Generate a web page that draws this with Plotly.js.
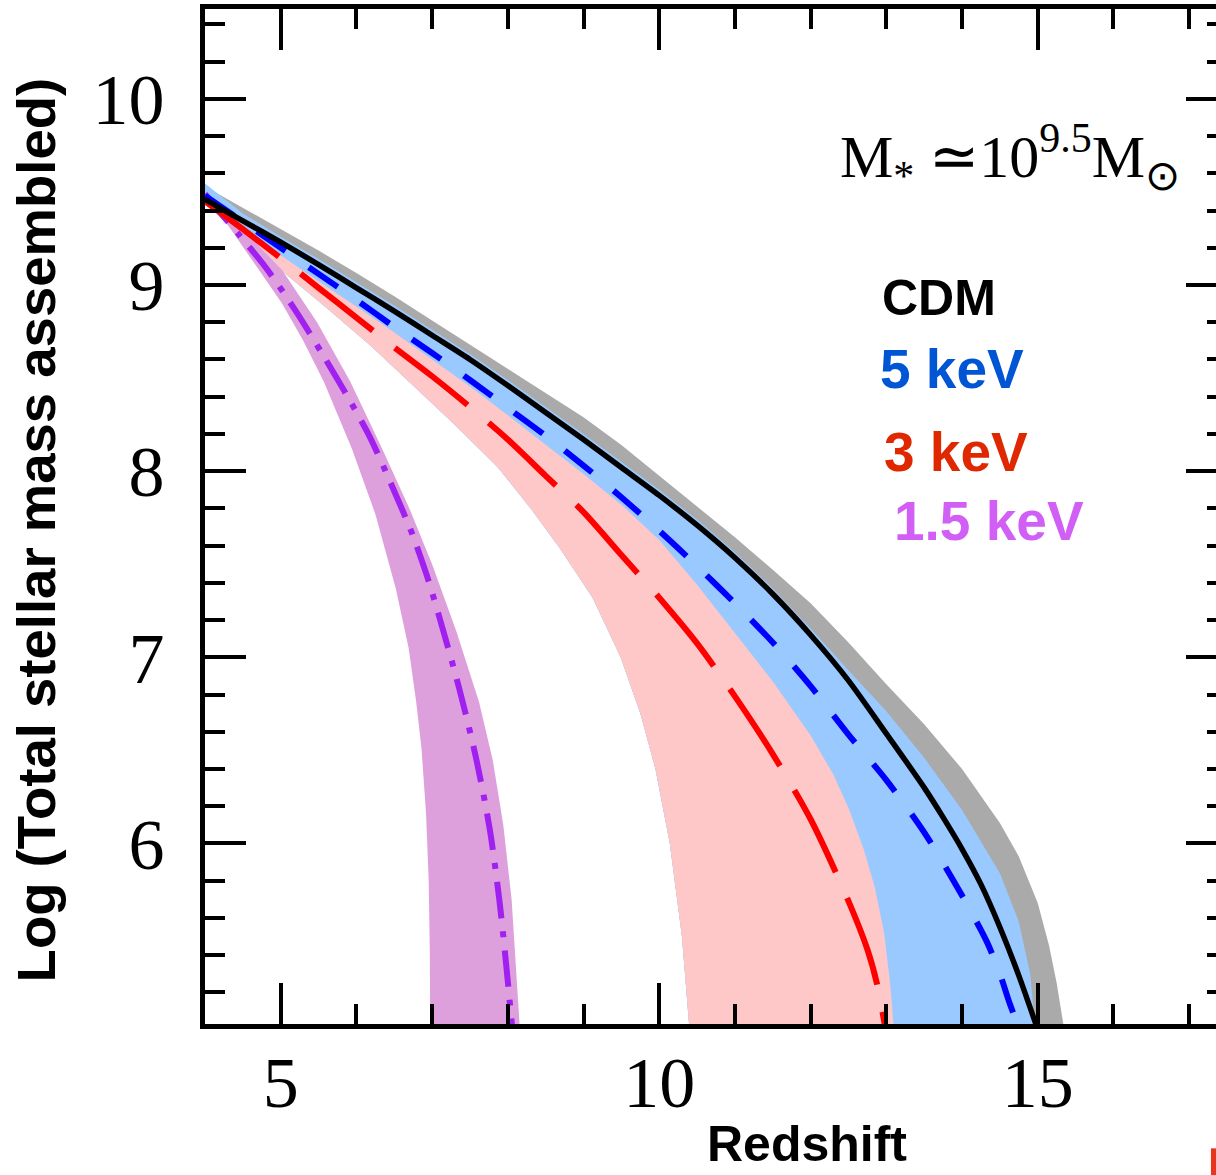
<!DOCTYPE html>
<html>
<head>
<meta charset="utf-8">
<script src="https://cdn.plot.ly/plotly-3.0.1.min.js"></script>
<style>
  html, body { margin: 0; padding: 0; overflow: hidden; background: #fff; }
  #chart { width: 1237px; height: 1175px; }
</style>
</head>
<body>
<div id="chart"></div>
<script>
// ---- data (x = redshift, y = log stellar mass) ----
// CDM (black solid)
const cdmX = [4.0, 4.5, 5.0, 5.5, 6.0, 6.5, 7.0, 7.5, 8.0, 8.5, 9.0, 9.5, 10.0, 10.5, 11.0, 11.5, 12.0, 12.5, 13.0, 13.5, 13.75, 14.0, 14.25, 14.5, 14.75, 15.0];
const cdmY = [9.46, 9.345, 9.23, 9.11, 8.985, 8.86, 8.73, 8.60, 8.46, 8.315, 8.17, 8.02, 7.87, 7.71, 7.535, 7.34, 7.12, 6.875, 6.59, 6.30, 6.14, 5.97, 5.78, 5.55, 5.29, 5.0];
// CDM band (grey) upper edge
const cdmBandX = [4.0, 4.5, 5.0, 5.5, 6.0, 6.5, 7.0, 7.5, 8.0, 8.5, 9.0, 9.5, 10.0, 10.5, 11.0, 11.5, 12.0, 12.5, 13.0, 13.5, 14.0, 14.5, 14.75, 15.0, 15.15, 15.25, 15.35];
const cdmBandY = [9.53, 9.415, 9.30, 9.185, 9.065, 8.94, 8.81, 8.68, 8.55, 8.42, 8.29, 8.14, 7.975, 7.81, 7.645, 7.47, 7.29, 7.08, 6.855, 6.64, 6.40, 6.11, 5.93, 5.68, 5.45, 5.25, 5.0];
// 5 keV (blue dashed)
const wdm5X = [4.0, 4.5, 5.0, 5.5, 6.0, 6.5, 7.0, 7.5, 8.0, 8.5, 9.0, 9.5, 10.0, 10.5, 11.0, 11.5, 12.0, 12.5, 13.0, 13.5, 14.0, 14.33, 14.5, 14.63, 14.76];
const wdm5Y = [9.48, 9.34, 9.20, 9.06, 8.92, 8.775, 8.635, 8.49, 8.34, 8.19, 8.03, 7.86, 7.68, 7.49, 7.29, 7.08, 6.845, 6.585, 6.34, 6.06, 5.72, 5.47, 5.30, 5.14, 5.0];
// 5 keV band (light blue) upper edge
const wdm5HiX = [4.0, 4.5, 5.0, 5.5, 6.0, 6.5, 7.0, 7.5, 8.0, 8.5, 9.0, 9.5, 10.0, 10.5, 11.0, 11.5, 12.0, 12.5, 13.0, 13.5, 14.0, 14.5, 14.75, 14.9, 14.97];
const wdm5HiY = [9.545, 9.385, 9.26, 9.14, 9.015, 8.89, 8.76, 8.63, 8.49, 8.345, 8.20, 8.05, 7.90, 7.74, 7.565, 7.37, 7.155, 6.93, 6.71, 6.46, 6.18, 5.84, 5.58, 5.30, 5.0];
// 5 keV band lower edge (= 3 keV band upper edge)
const wdm5LoX = [4.0, 4.5, 5.0, 5.5, 6.0, 6.5, 7.0, 7.5, 8.0, 8.5, 9.0, 9.5, 10.0, 10.5, 11.0, 11.5, 12.0, 12.3, 12.5, 12.7, 12.85, 12.97, 13.05, 13.10];
const wdm5LoY = [9.47, 9.315, 9.16, 9.02, 8.885, 8.745, 8.60, 8.455, 8.30, 8.145, 7.985, 7.82, 7.63, 7.39, 7.13, 6.87, 6.58, 6.37, 6.19, 5.97, 5.76, 5.52, 5.25, 5.0];
// 3 keV (red long dashed)
const wdm3X = [4.0, 4.5, 5.0, 5.5, 6.0, 6.5, 7.0, 7.5, 8.0, 8.5, 9.0, 9.5, 10.0, 10.5, 11.0, 11.5, 12.0, 12.5, 12.75, 12.88, 12.99];
const wdm3Y = [9.45, 9.30, 9.145, 8.985, 8.825, 8.665, 8.51, 8.345, 8.17, 7.975, 7.78, 7.55, 7.32, 7.075, 6.79, 6.48, 6.13, 5.69, 5.43, 5.24, 5.0];
// 3 keV band (pink) lower edge
const wdm3LoX = [4.0, 4.5, 5.0, 5.6, 6.2, 6.7, 7.3, 7.87, 8.32, 8.68, 9.12, 9.49, 9.75, 9.95, 10.14, 10.30, 10.40];
const wdm3LoY = [9.44, 9.25, 9.08, 8.88, 8.67, 8.48, 8.25, 8.02, 7.79, 7.59, 7.32, 7.0, 6.7, 6.4, 6.0, 5.5, 5.0];
// 1.5 keV (purple dash-dot)
const wdm15X = [4.0, 4.22, 4.45, 4.81, 5.2, 5.55, 5.87, 6.17, 6.46, 6.74, 6.93, 7.10, 7.36, 7.58, 7.76, 7.89, 7.99, 8.06];
const wdm15Y = [9.49, 9.38, 9.27, 9.09, 8.86, 8.63, 8.41, 8.19, 7.93, 7.66, 7.44, 7.21, 6.83, 6.46, 6.08, 5.69, 5.30, 5.0];
// 1.5 keV band (plum) left and right edges
const wdm15LoX = [4.0, 4.42, 5.02, 5.30, 5.57, 5.94, 6.25, 6.52, 6.69, 6.79, 6.86, 6.92, 6.955, 6.97, 6.975];
const wdm15LoY = [9.50, 9.25, 8.90, 8.70, 8.48, 8.12, 7.77, 7.37, 7.05, 6.76, 6.51, 6.16, 5.80, 5.4, 5.0];
const wdm15HiX = [4.0, 4.5, 5.02, 5.48, 5.92, 6.34, 6.70, 7.0, 7.32, 7.62, 7.80, 7.94, 8.05, 8.11, 8.16];
const wdm15HiY = [9.50, 9.30, 9.08, 8.80, 8.48, 8.12, 7.80, 7.50, 7.14, 6.76, 6.45, 6.10, 5.70, 5.35, 5.0];

const modelLabels = ['CDM', '5 keV', '3 keV', '1.5 keV'];
const xTitle = 'Redshift';
const yTitle = 'Log (Total stellar mass assembled)';
const massLabel = 'M<sub>*</sub> \u224310<sup>9.5</sup>M<sub>\u2299</sub>';

// ---- helpers ----
function band(hiX, hiY, loX, loY, color) {
  return {
    x: hiX.concat(loX.slice().reverse()),
    y: hiY.concat(loY.slice().reverse()),
    mode: 'lines', fill: 'toself', fillcolor: color,
    line: {width: 0, color: 'rgba(0,0,0,0)'}, hoverinfo: 'skip'
  };
}
function curve(x, y, color, dash, width) {
  return {x: x, y: y, mode: 'lines', line: {color: color, dash: dash, width: width, shape: 'spline', smoothing: 0.8}, hoverinfo: 'skip'};
}

const traces = [
  band(cdmBandX, cdmBandY, wdm3LoX, wdm3LoY, '#aaaaaa'),
  band(wdm5HiX, wdm5HiY, wdm3LoX, wdm3LoY, '#99c9ff'),
  band(wdm5LoX, wdm5LoY, wdm3LoX, wdm3LoY, '#ffc8c8'),
  band(wdm15HiX, wdm15HiY, wdm15LoX, wdm15LoY, '#dda0dd'),
  curve(wdm15X, wdm15Y, '#a020f0', '37px,13px,6px,13px', 6),
  curve(wdm3X, wdm3Y, '#ff0000', '92px,28px', 6),
  curve(wdm5X, wdm5Y, '#0000ff', '35px,28px', 6),
  curve(cdmX, cdmY, '#000000', 'solid', 5.5)
];

const serif = 'Liberation Serif, Times New Roman, serif';
const sans = 'Liberation Sans, Arial, Helvetica, sans-serif';

const layout = {
  width: 1237, height: 1175,
  margin: {l: 205, r: 10, t: 9, b: 151, pad: 0},
  paper_bgcolor: '#ffffff', plot_bgcolor: '#ffffff',
  showlegend: false,
  xaxis: {
    range: [4, 17.5], showgrid: false, zeroline: false,
    showline: true, linewidth: 5, linecolor: '#000',
    mirror: 'allticks', ticks: 'inside', ticklen: 41, tickwidth: 4, tickcolor: '#000',
    tick0: 0, dtick: 5, ticklabelstandoff: -8,
    tickfont: {family: serif, size: 72, color: '#000'},
    minor: {tick0: 0, dtick: 1, ticks: 'inside', ticklen: 20, tickwidth: 4, tickcolor: '#000', showgrid: false}
  },
  yaxis: {
    range: [5.03, 10.483], showgrid: false, zeroline: false,
    showline: true, linewidth: 5, linecolor: '#000',
    mirror: 'allticks', ticks: 'inside', ticklen: 41, tickwidth: 4, tickcolor: '#000',
    tick0: 0, dtick: 1, ticklabelstandoff: 21,
    tickfont: {family: serif, size: 72, color: '#000'},
    minor: {tick0: 0, dtick: 0.2, ticks: 'inside', ticklen: 20, tickwidth: 4, tickcolor: '#000', showgrid: false}
  },
  shapes: [
    {type: 'rect', xref: 'paper', yref: 'paper', x0: 0.9843, x1: 0.9895, y0: -0.1225, y1: -0.16,
     line: {width: 0}, fillcolor: '#e8361e'}
  ],
  annotations: [
    {text: xTitle, xref: 'x', yref: 'paper', x: 11.95, y: -0.118, xanchor: 'center', yanchor: 'middle', showarrow: false,
     font: {family: sans, size: 50, color: '#000', weight: 'bold'}},
    {text: yTitle, xref: 'paper', yref: 'paper', x: -0.164, y: 0.4867, xanchor: 'center', yanchor: 'middle', textangle: -90, showarrow: false,
     font: {family: sans, size: 54.5, color: '#000', weight: 'bold'}},
    {text: massLabel, xref: 'x', yref: 'y', x: 12.36, y: 9.69, xanchor: 'left', yanchor: 'middle', showarrow: false,
     font: {family: serif, size: 60, color: '#000'}},
    {text: modelLabels[0], xref: 'x', yref: 'y', x: 12.92, y: 8.93, xanchor: 'left', yanchor: 'middle', showarrow: false,
     font: {family: sans, size: 50, color: '#000000', weight: 'bold'}},
    {text: modelLabels[1], xref: 'x', yref: 'y', x: 12.89, y: 8.549, xanchor: 'left', yanchor: 'middle', showarrow: false,
     font: {family: sans, size: 55, color: '#0055d4', weight: 'bold'}},
    {text: modelLabels[2], xref: 'x', yref: 'y', x: 12.94, y: 8.103, xanchor: 'left', yanchor: 'middle', showarrow: false,
     font: {family: sans, size: 55, color: '#e02800', weight: 'bold'}},
    {text: modelLabels[3], xref: 'x', yref: 'y', x: 13.07, y: 7.733, xanchor: 'left', yanchor: 'middle', showarrow: false,
     font: {family: sans, size: 55, color: '#d25ff5', weight: 'bold'}}
  ]
};

Plotly.newPlot('chart', traces, layout, {staticPlot: true, displayModeBar: false});
</script>
</body>
</html>
